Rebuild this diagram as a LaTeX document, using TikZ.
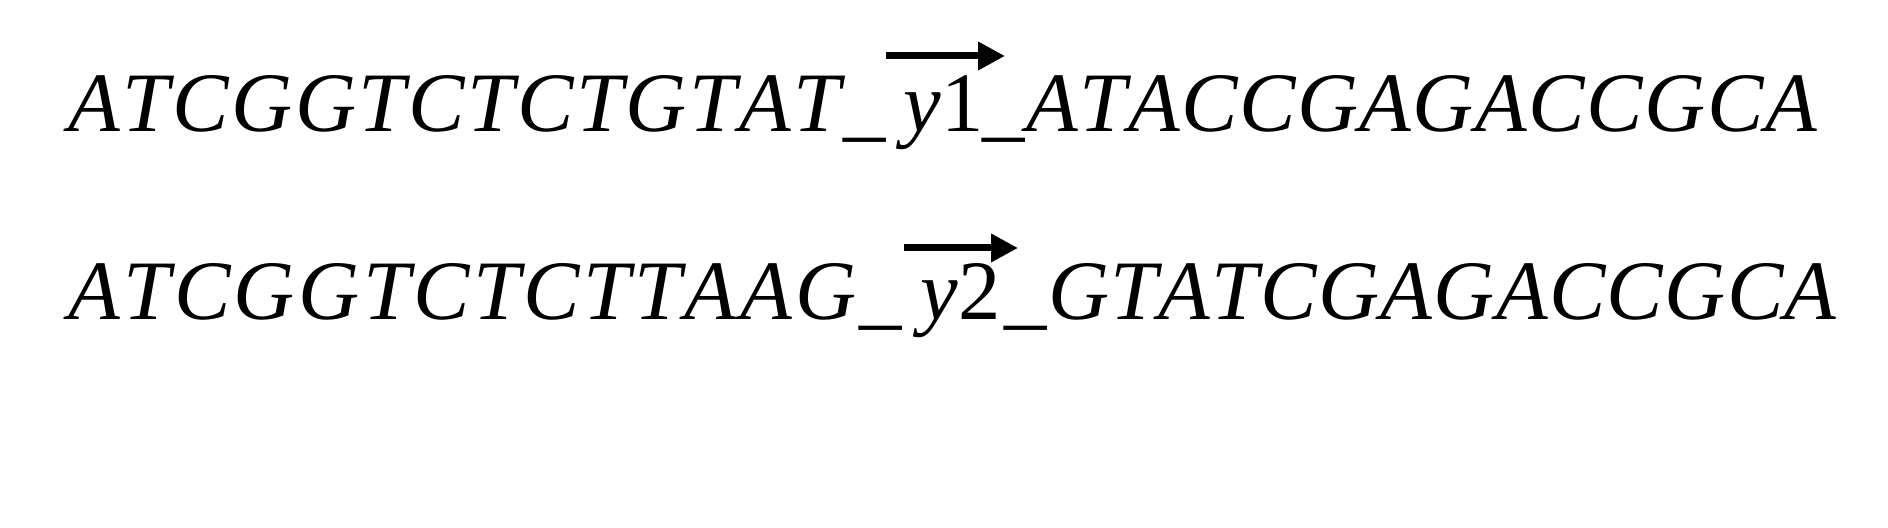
\documentclass[tikz,border=0pt]{standalone}
\usepackage{fontspec}
\setmainfont{Liberation Serif}[Kerning=Off]
\usetikzlibrary{arrows.meta}
\tikzset{
  seq/.style={anchor=base west, inner sep=0pt,
    font=\fontsize{42.3}{50}\selectfont\addfontfeatures{LetterSpace=#1}},
  seq/.default=0,
  seqarrow/.style={line width=3.5pt, -{Triangle[length=13.5pt,width=13.5pt]}}
}
\begin{document}
\begin{tikzpicture}
  \useasboundingbox (0,0) rectangle (944pt,264pt);
  % first sequence
  \node[seq=3.1] (pre1) at (34pt,198pt) {\textit{ATCGGTCTCTGTAT\_}};
  \node[seq] (var1) at (451.5pt,198pt) {\textit{y}1};
  \node[seq=1.8] (post1) at (491pt,198pt) {\textit{\_ATACCGAGACCGCA}};
  % second sequence
  \node[seq=4.1] (pre2) at (34pt,104pt) {\textit{ATCGGTCTCTTAAG\_}};
  \node[seq] (var2) at (460pt,104pt) {\textit{y}2};
  \node[seq=1.6] (post2) at (502pt,104pt) {\textit{\_GTATCGAGACCGCA}};
  \coordinate (a1) at (443pt,236pt);
  \coordinate (b1) at (502.5pt,236pt);
  \coordinate (a2) at (452pt,140pt);
  \coordinate (b2) at (509pt,140pt);
  \begin{scope}[seqarrow]
    \draw (a1) to (b1);
    \draw (a2) to (b2);
  \end{scope}
\end{tikzpicture}
\end{document}
